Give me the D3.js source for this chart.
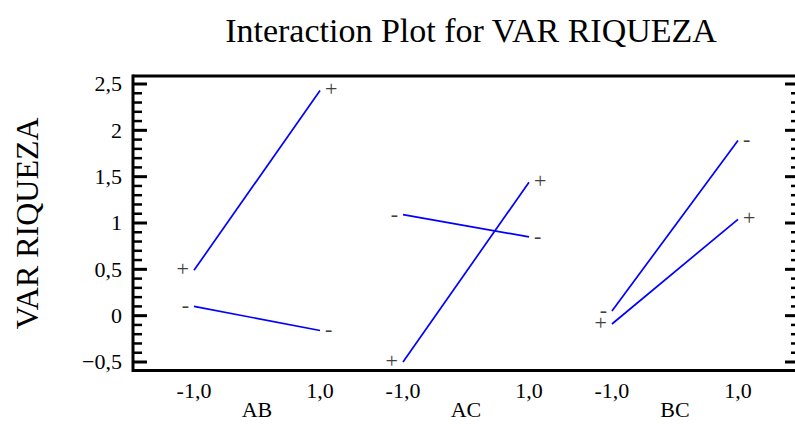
<!DOCTYPE html>
<html>
<head>
<meta charset="utf-8">
<script src="https://cdn.jsdelivr.net/npm/d3@7"></script>
<style>
  html, body { margin: 0; padding: 0; background: #fff; }
  svg { display: block; }
</style>
</head>
<body>
<svg id="chart" width="795" height="426" font-family="'Liberation Serif', 'Times New Roman', 'DejaVu Serif', serif"></svg>
<script>
// Interaction effects: each factor pair, second factor at "+" and "-"
const factors = ["AB", "AC", "BC"];
const levels = [-1, 1];
const plusValues  = [[0.49, 2.43], [-0.50, 1.44], [-0.09, 1.04]];
const minusValues = [[0.10, -0.16], [1.09, 0.85], [0.05, 1.89]];
const yTicks = [-0.5, 0, 0.5, 1, 1.5, 2, 2.5];
const xTickLabels = ["-1,0", "1,0"];
const titleText = "Interaction Plot for VAR RIQUEZA";
const yLabelText = "VAR RIQUEZA";

const svg = d3.select("#chart");
const plotLeft = 133, plotRight = 799;

const y = d3.scaleLinear().domain([-0.5, 2.5]).range([362, 84]);
const plotTop = y(2.5) - 8, plotBottom = y(-0.5) + 8.5;

const panel = d3.scaleBand().domain(factors).range([plotLeft, plotRight])
  .paddingInner(0.397).paddingOuter(0.292);
const inner = d3.scaleLinear().domain([-1, 1]).range([0, panel.bandwidth()]);
const xPos = (f, l) => panel(f) + inner(l);

const fmt = v => d3.format("")(v).replace(".", ",");

// Title and y-axis label
svg.append("text").attr("x", 471).attr("y", 42).attr("text-anchor", "middle")
  .attr("font-size", 34).text(titleText);
svg.append("text").attr("transform", `translate(38,${(plotTop + plotBottom) / 2}) rotate(-90)`)
  .attr("text-anchor", "middle").attr("font-size", 32).text(yLabelText);

// Frame: left, top, bottom
const frame = svg.append("g").attr("stroke", "#000").attr("stroke-width", 3).attr("fill", "none");
frame.append("line").attr("x1", plotLeft).attr("x2", plotLeft).attr("y1", plotTop - 1.5).attr("y2", plotBottom + 1.5);
frame.append("line").attr("x1", plotLeft).attr("x2", plotRight).attr("y1", plotTop).attr("y2", plotTop);
frame.append("line").attr("x1", plotLeft).attr("x2", plotRight).attr("y1", plotBottom).attr("y2", plotBottom);

// Y ticks on both sides, major every 0.5 and minor every 0.1
const minor = d3.range(-5, 26).map(i => i / 10).filter(v => Math.abs(v * 2 - Math.round(v * 2)) > 1e-6);
const tickG = svg.append("g").attr("stroke", "#000");
tickG.selectAll(".maj").data(yTicks).join("g").each(function (d) {
  const g = d3.select(this);
  g.append("line").attr("x1", plotLeft).attr("x2", plotLeft + 14).attr("y1", y(d)).attr("y2", y(d)).attr("stroke-width", 3);
  g.append("line").attr("x1", plotRight - 14).attr("x2", plotRight).attr("y1", y(d)).attr("y2", y(d)).attr("stroke-width", 3);
});
tickG.selectAll(".min").data(minor).join("g").each(function (d) {
  const g = d3.select(this);
  g.append("line").attr("x1", plotLeft).attr("x2", plotLeft + 9).attr("y1", y(d)).attr("y2", y(d)).attr("stroke-width", 2.5);
  g.append("line").attr("x1", plotRight - 8).attr("x2", plotRight).attr("y1", y(d)).attr("y2", y(d)).attr("stroke-width", 2.5);
});

svg.append("g").selectAll("text").data(yTicks).join("text")
  .attr("x", 122).attr("y", d => y(d)).attr("dy", "0.34em")
  .attr("text-anchor", "end").attr("font-size", 22).text(fmt);

// X tick labels and factor names
factors.forEach(f => {
  levels.forEach((l, i) => {
    svg.append("text").attr("x", xPos(f, l)).attr("y", 398).attr("text-anchor", "middle")
      .attr("font-size", 22).text(xTickLabels[i]);
  });
  svg.append("text").attr("x", panel(f) + panel.bandwidth() / 2).attr("y", 417)
    .attr("text-anchor", "middle").attr("font-size", 22).text(f);
});

// Interaction lines with level markers at both ends
const line = d3.line().x(d => d[0]).y(d => d[1]);
const series = [
  { sym: "+", vals: plusValues },
  { sym: "-", vals: minusValues }
];
factors.forEach((f, fi) => {
  series.forEach(s => {
    const pts = levels.map((l, li) => [xPos(f, l), y(s.vals[fi][li])]);
    svg.append("path").attr("d", line(pts)).attr("fill", "none")
      .attr("stroke", "#0000ff").attr("stroke-width", 1.7);
    svg.append("text").attr("x", pts[0][0] - 5).attr("y", pts[0][1]).attr("dy", "0.27em")
      .attr("text-anchor", "end").attr("font-size", 22).attr("fill", "#404040").text(s.sym);
    svg.append("text").attr("x", pts[1][0] + 5).attr("y", pts[1][1]).attr("dy", "0.27em")
      .attr("text-anchor", "start").attr("font-size", 22).attr("fill", "#404040").text(s.sym);
  });
});
</script>
</body>
</html>
